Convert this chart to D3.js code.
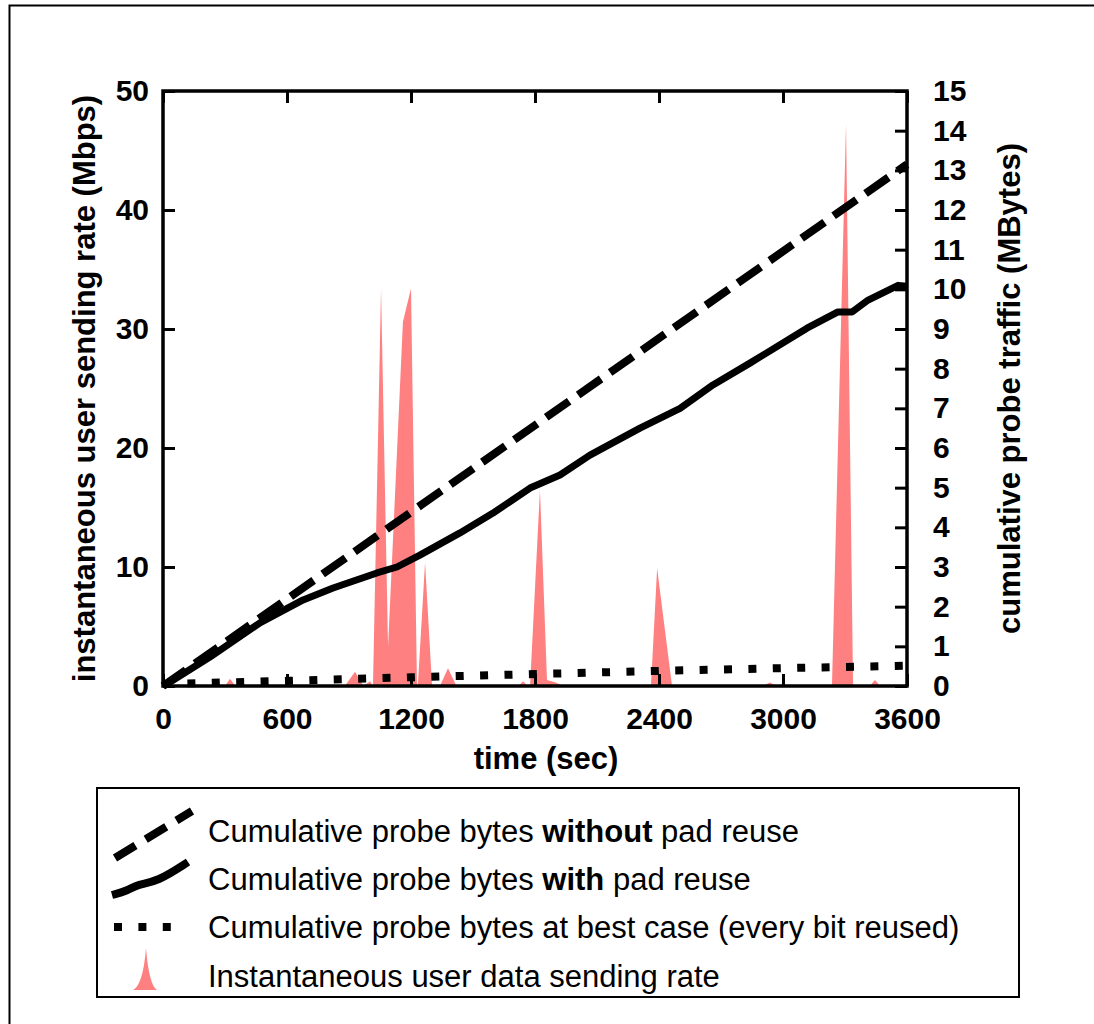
<!DOCTYPE html>
<html>
<head>
<meta charset="utf-8">
<script src="https://cdn.jsdelivr.net/npm/d3@7"></script>
<style>
  body { margin: 0; background: #fff; }
  svg text { font-family: "Liberation Sans", Arial, sans-serif; }
</style>
</head>
<body>
<svg id="chart" width="1094" height="1024"></svg>
<script>
// time axis (sec)
var xTicks = [0, 600, 1200, 1800, 2400, 3000, 3600];
var leftTicks = [0, 10, 20, 30, 40, 50];
var rightTicks = [0, 1, 2, 3, 4, 5, 6, 7, 8, 9, 10, 11, 12, 13, 14, 15];

// instantaneous user sending rate (Mbps)
var rateTime = [0, 150, 300, 324, 350, 600, 880, 929, 970, 1002, 1016, 1055, 1089, 1161, 1200, 1229, 1234, 1268, 1302, 1340, 1379, 1420,
  1720, 1742, 1765, 1776, 1824, 1858, 1900, 1936, 2300, 2361, 2391, 2463, 2900, 2937, 2970, 3237, 3305, 3339, 3420, 3445, 3470, 3600];
var rateValue = [0, 0, 0, 0.6, 0, 0, 0, 1.2, 0, 0.4, 0, 33.4, 3.3, 30.6, 33.4, 0, 0.3, 10.4, 0, 0, 1.5, 0,
  0, 0.4, 0, 0, 16.5, 0.5, 0.3, 0, 0, 0, 9.9, 0, 0, 0.3, 0, 0, 47.3, 0, 0, 0.5, 0, 0];

// cumulative probe bytes without pad reuse (MBytes)
var noReuseTime = [0, 3600];
var noReuseValue = [0, 13.15];

// cumulative probe bytes with pad reuse (MBytes)
var reuseTime = [0, 19, 227, 469, 678, 823, 1035, 1132, 1243, 1437, 1597, 1776, 1921, 2066, 2308, 2502, 2661, 2840, 3116, 3266, 3334, 3412, 3557, 3600];
var reuseValue = [0, 0.05, 0.73, 1.59, 2.17, 2.47, 2.85, 3.0, 3.3, 3.86, 4.36, 4.99, 5.32, 5.82, 6.5, 7.0, 7.59, 8.14, 9.02, 9.43, 9.43, 9.73, 10.1, 10.08];

// cumulative probe bytes at best case (MBytes)
var bestTime = [0, 600, 1200, 1800, 2400, 3000, 3600];
var bestValue = [0, 0.08, 0.17, 0.25, 0.33, 0.4, 0.46];

var svg = d3.select("#chart");
var pLeft = 163, pRight = 907, pTop = 91, pBottom = 686;
var pink = "#ff8080";

var x = d3.scaleLinear().domain([0, 3600]).range([pLeft, pRight]);
var yL = d3.scaleLinear().domain([0, 50]).range([pBottom, pTop]);
var yR = d3.scaleLinear().domain([0, 15]).range([pBottom, pTop]);

// outer frame
svg.append("path").attr("d", "M9.5,1024 L9.5,5.5 L1094,5.5")
  .attr("fill", "none").attr("stroke", "#000").attr("stroke-width", 2);

// rate area
var area = d3.area()
  .x(function(d) { return x(d[0]); })
  .y0(pBottom)
  .y1(function(d) { return yL(d[1]); });
svg.append("path")
  .datum(d3.zip(rateTime, rateValue))
  .attr("fill", pink)
  .attr("d", area);

// lines
function lineOf(ts, vs) {
  return d3.line().x(function(d) { return x(d[0]); }).y(function(d) { return yR(d[1]); })(d3.zip(ts, vs));
}
svg.append("path").attr("d", lineOf(bestTime, bestValue))
  .attr("fill", "none").attr("stroke", "#000").attr("stroke-width", 8)
  .attr("stroke-dasharray", "8,16.4").attr("transform", "translate(0,-2)");
svg.append("path").attr("d", lineOf(noReuseTime, noReuseValue))
  .attr("fill", "none").attr("stroke", "#000").attr("stroke-width", 8)
  .attr("stroke-dasharray", "28,11");
svg.append("path").attr("d", lineOf(reuseTime, reuseValue))
  .attr("fill", "none").attr("stroke", "#000").attr("stroke-width", 7)
  .attr("stroke-linejoin", "round");

// axes
var tickFont = "30px";
function styleAxis(g) {
  g.select(".domain").remove();
  g.selectAll("line").attr("stroke", "#000").attr("stroke-width", 3);
  g.selectAll("text").attr("font-size", tickFont).attr("font-weight", "bold").attr("fill", "#000");
}
svg.append("g").attr("transform", "translate(0," + pBottom + ")")
  .call(d3.axisBottom(x).tickValues(xTicks).tickSize(-12).tickPadding(22).tickFormat(d3.format("d")))
  .call(styleAxis);
svg.append("g").attr("transform", "translate(0," + pTop + ")")
  .call(d3.axisTop(x).tickValues(xTicks).tickSize(-12).tickFormat(""))
  .call(styleAxis);
svg.append("g").attr("transform", "translate(" + pLeft + ",0)")
  .call(d3.axisLeft(yL).tickValues(leftTicks).tickSize(-12).tickPadding(14))
  .call(styleAxis);
svg.append("g").attr("transform", "translate(" + pRight + ",0)")
  .call(d3.axisRight(yR).tickValues(rightTicks).tickSize(-12).tickPadding(26))
  .call(styleAxis);

svg.append("rect").attr("x", pLeft).attr("y", pTop)
  .attr("width", pRight - pLeft).attr("height", pBottom - pTop)
  .attr("fill", "none").attr("stroke", "#000").attr("stroke-width", 3.5);

// axis titles
svg.append("text").attr("x", 546).attr("y", 769)
  .attr("text-anchor", "middle").attr("font-size", "31px").attr("font-weight", "bold")
  .text("time (sec)");
svg.append("text").attr("transform", "translate(95," + (pTop + pBottom) / 2 + ") rotate(-90)")
  .attr("text-anchor", "middle").attr("font-size", "31px").attr("font-weight", "bold")
  .text("instantaneous user sending rate (Mbps)");
svg.append("text").attr("transform", "translate(1020," + (pTop + pBottom) / 2 + ") rotate(-90)")
  .attr("text-anchor", "middle").attr("font-size", "31px").attr("font-weight", "bold")
  .text("cumulative probe traffic (MBytes)");

// legend
var lg = svg.append("g");
lg.append("rect").attr("x", 97).attr("y", 788).attr("width", 922).attr("height", 209)
  .attr("fill", "#fff").attr("stroke", "#000").attr("stroke-width", 2);

var legendRows = [
  ["Cumulative probe bytes ", "without", " pad reuse"],
  ["Cumulative probe bytes ", "with", " pad reuse"],
  ["Cumulative probe bytes at best case (every bit reused)", "", ""],
  ["Instantaneous user data sending rate", "", ""]
];
var rowBase = [842, 890, 938, 987];
legendRows.forEach(function(r, i) {
  var t = lg.append("text").attr("x", 208).attr("y", rowBase[i]).attr("font-size", "31px");
  t.append("tspan").text(r[0]);
  if (r[1]) t.append("tspan").attr("font-weight", "bold").text(r[1]);
  if (r[2]) t.append("tspan").text(r[2]);
});

lg.append("path").attr("d", "M115,858 L192,811")
  .attr("stroke", "#000").attr("stroke-width", 8).attr("stroke-dasharray", "24,12").attr("fill", "none");
lg.append("path").attr("d", d3.line().curve(d3.curveBasis)([[112, 895], [127, 891], [138, 884], [157, 882], [188, 862]]))
  .attr("stroke", "#000").attr("stroke-width", 8).attr("fill", "none");
lg.append("path").attr("d", "M114,927 L175,927")
  .attr("stroke", "#000").attr("stroke-width", 8).attr("stroke-dasharray", "8,16.4").attr("fill", "none");
lg.append("path").attr("d", "M133,990 Q143,985 146,948 Q149,985 157,990 Z").attr("fill", pink);
</script>
</body>
</html>
